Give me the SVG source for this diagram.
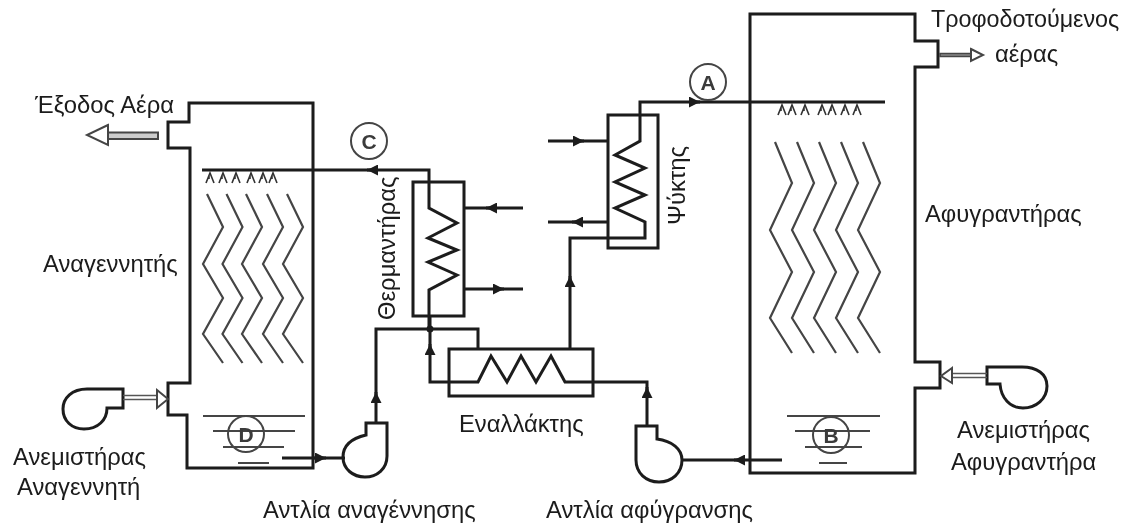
<svg xmlns="http://www.w3.org/2000/svg" xmlns:xlink="http://www.w3.org/1999/xlink" width="1128" height="524" viewBox="0 0 1128 524">
<style>
text{font-family:"Liberation Sans",Arial,sans-serif;font-size:23.8px;fill:#1a1a1a}
.l{font-size:21px;text-anchor:middle;font-weight:bold;fill:#3a3a3a}
.w{fill:none;stroke:#1c1c1c;stroke-width:3}
.p{fill:none;stroke:#1c1c1c;stroke-width:3}
.t{fill:none;stroke:#444;stroke-width:2}
.s{fill:none;stroke:#333;stroke-width:1.6}
.c{fill:none;stroke:#444;stroke-width:2.2}
.a{fill:none;stroke:#1c1c1c;stroke-width:3;marker-end:url(#ah)}
.d{fill:none;stroke:#555;stroke-width:1.6}
.h{fill:#fff;stroke:#444;stroke-width:2}
</style>
<defs>
<filter id="soft" x="0" y="0" width="1" height="1"><feGaussianBlur stdDeviation="0.45"/></filter>
<marker id="ah" markerUnits="userSpaceOnUse" markerWidth="13" markerHeight="11" refX="11" refY="5.500" orient="auto"><path d="M0 0L11 5.500L0 11Z" fill="#1c1c1c"/></marker>
<path id="chevL" class="c" d="M207 194L223 227L203 264L223 298L203 334L223 363"/>
<path id="chevR" class="c" d="M775 142L792 183L770 230L792 272L770 318L792 353"/>
<path id="spray" class="s" d="M-4 12L0 2L4 12M-1 5L-1 8"/>
</defs>
<rect width="1128" height="524" fill="#fff"/>
<g filter="url(#soft)">
<g id="regenerator">
<path class="w" d="M189 122V103H313V468H187V415H168V383H190V148H168V122Z"/>
<g id="regenerator-packing">
<use xlink:href="#chevL"/><use xlink:href="#chevL" x="19.5"/><use xlink:href="#chevL" x="39"/><use xlink:href="#chevL" x="60"/><use xlink:href="#chevL" x="80"/>
</g>
<g id="regenerator-sprays">
<use xlink:href="#spray" x="210" y="171"/><use xlink:href="#spray" x="223" y="171"/><use xlink:href="#spray" x="236" y="171"/><use xlink:href="#spray" x="251" y="171"/><use xlink:href="#spray" x="263" y="171"/><use xlink:href="#spray" x="273" y="171"/>
</g>
<path class="t" d="M203 416H305M213 431H295M223 447H284M238 463H269"/>
<circle class="t" cx="246" cy="434" r="18"/>
<text class="l" x="246" y="442">D</text>
</g>
<g id="dehumidifier">
<path class="w" d="M750 14H915V41H938V67H915V362H940V388H915V473H750Z"/>
<g id="dehumidifier-packing">
<use xlink:href="#chevR"/><use xlink:href="#chevR" x="22"/><use xlink:href="#chevR" x="44"/><use xlink:href="#chevR" x="66"/><use xlink:href="#chevR" x="88"/>
</g>
<g id="dehumidifier-sprays">
<use xlink:href="#spray" x="782" y="103"/><use xlink:href="#spray" x="792" y="103"/><use xlink:href="#spray" x="805" y="103"/><use xlink:href="#spray" x="822" y="103"/><use xlink:href="#spray" x="832" y="103"/><use xlink:href="#spray" x="845" y="103"/><use xlink:href="#spray" x="857" y="103"/>
</g>
<path class="t" d="M787 416H880M795 431H870M805 447H862M819 463H847"/>
<circle class="t" cx="831" cy="435" r="18"/>
<text class="l" x="831" y="443">B</text>
</g>
<g id="heater"><rect class="w" x="413" y="182" width="51" height="134"/></g>
<g id="cooler"><rect class="w" x="608" y="115" width="50" height="133"/></g>
<g id="exchanger"><rect class="w" x="449" y="349" width="144" height="47"/></g>
<g id="fan-left"><path class="w" d="M123 389H87C72 389 63 398 63 409C63 421 72 429 84 429C98 429 107 420 107 408H123Z"/></g>
<g id="fan-right"><path class="w" d="M987 367H1022C1037 367 1047 374 1047 386C1047 399 1036 408 1023 408C1010 408 1001 398 1000 384H987Z"/></g>
<g id="pump-left"><path class="w" d="M366 435V423H387V456C387 469 377 477 365 477C353 477 343 469 343 457C343 445 353 438 366 435Z"/></g>
<g id="pump-right"><path class="w" d="M636 426H657V439C672 441 682 449 682 460C682 473 672 482 659 482C646 482 636 473 636 460Z"/></g>
<g id="connectors">
<path class="p" d="M202 170H429V208L457 223L428 238L457 250L428 262L457 275L429 290V329"/>
<path class="p" d="M478 349V329H376V423"/>
<path class="p" d="M430 316V382H478L491 356L507 382L521 356L536 382L551 356L565 382H647V426"/>
<path class="p" d="M570 349V238H645V222L615 208L645 195L615 182L645 168L615 155L640 141V102H885"/>
<path class="p" d="M464 208H523M464 289H523M548 141H608M548 222H608"/>
<path class="p" d="M282 458H345M682 460H782"/>
<circle cx="430" cy="329" r="3.500" fill="#1c1c1c"/>
<path class="a" d="M376 170H367"/>
<path class="a" d="M494 208H486"/>
<path class="a" d="M494 289H504"/>
<path class="a" d="M574 141H584"/>
<path class="a" d="M580 222H572"/>
<path class="a" d="M690 102H700"/>
<path class="a" d="M570 284V276"/>
<path class="a" d="M430 352V344"/>
<path class="a" d="M376 400V392"/>
<path class="a" d="M647 398V387"/>
<path class="a" d="M312 458H326"/>
<path class="a" d="M745 460H734"/>
<g id="air-flows">
<path d="M158 132.500H108V139H158Z" fill="#ccc" stroke="#444" stroke-width="2"/>
<path class="h" d="M108 125L87 135L108 145Z"/>
<path d="M940 53.500H971V56.500H940Z" fill="#888" stroke="#444" stroke-width="1.500"/>
<path class="h" d="M971 49L983 55L971 61Z"/>
<path class="d" d="M123 395.500H158M123 399.500H158"/>
<path class="h" d="M157 390L168 399L157 408Z"/>
<path class="d" d="M987 373.500H952M987 377.500H952"/>
<path class="h" d="M952 368L941 376L952 383Z"/>
</g>
</g>
<g id="markers">
<circle class="t" cx="708" cy="82" r="18"/><text class="l" x="708" y="90">A</text>
<circle class="t" cx="369" cy="141" r="18"/><text class="l" x="369" y="149">C</text>
</g>
<g id="labels">
<text x="35" y="113">Έξοδος Αέρα</text>
<text x="43" y="272">Αναγεννητής</text>
<text x="13" y="465">Ανεμιστήρας</text>
<text x="17" y="495">Αναγεννητή</text>
<text x="263" y="518">Αντλία αναγέννησης</text>
<text x="546" y="518">Αντλία αφύγρανσης</text>
<text x="459" y="432">Εναλλάκτης</text>
<text x="931" y="27" style="font-size:23.3px">Τροφοδοτούμενος</text>
<text x="995" y="62">αέρας</text>
<text x="925" y="222">Αφυγραντήρας</text>
<text x="957" y="438">Ανεμιστήρας</text>
<text x="951" y="470">Αφυγραντήρα</text>
<text transform="translate(395 320) rotate(-90)">Θερμαντήρας</text>
<text transform="translate(685 225) rotate(-90)">Ψύκτης</text>
</g>
</g>
</svg>
